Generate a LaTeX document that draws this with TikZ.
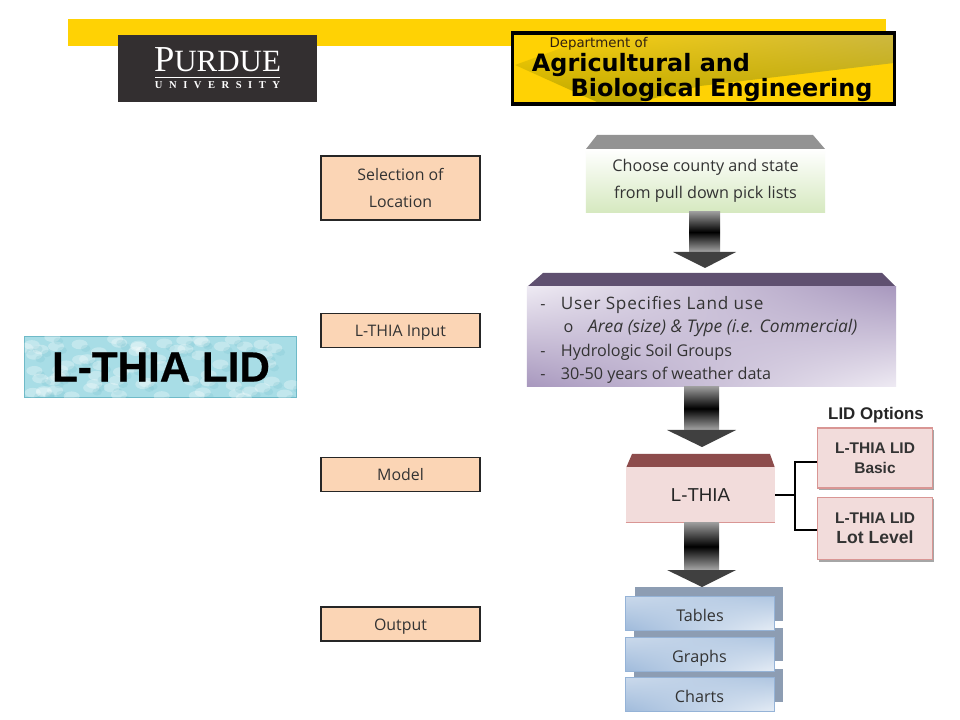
\documentclass[tikz,border=0pt]{standalone}
\usepackage{fontspec}
\usepackage{tikz}
\setmainfont{Open Sans}
\newfontfamily\arialfont{Liberation Sans}
\newfontfamily\lidfont[BoldFeatures={FakeBold=0.5}]{Liberation Sans}
\newfontfamily\purduefont{Liberation Serif}
\newfontfamily\abefont{DejaVu Sans}
\usetikzlibrary{positioning, shadings, shadows}
\definecolor{purdueblack}{HTML}{332F30}
\definecolor{purduegold}{HTML}{FFD204}
\definecolor{abeolive}{HTML}{BFA800}
\definecolor{abelight}{HTML}{CDB840}
\definecolor{stepfill}{HTML}{FBD5B5}
\definecolor{outgray}{HTML}{8D9DB3}
\definecolor{outedge}{HTML}{95B3D7}
\definecolor{lidred}{HTML}{F2DCDB}
\definecolor{lidedge}{HTML}{D99694}
\definecolor{lidwater}{HTML}{A8DDE6}
\definecolor{lidteal}{HTML}{6FBAC8}
\definecolor{purpledark}{HTML}{5F5070}
\definecolor{purplemid}{HTML}{A898BE}
\definecolor{purplelight}{HTML}{EEEAF3}
\tikzstyle{stage} = [draw=black!85,line width=1.4pt,fill=stepfill,minimum width=3.98cm,align=center,font=\fontsize{11.3}{19}\selectfont,text=black!80]
\tikzstyle{stageone} = [stage,minimum height=0.85cm,text height=12pt,text depth=3pt]
\tikzstyle{outback} = [fill=outgray,minimum width=3.7cm,minimum height=0.83cm,inner sep=0pt]
\tikzstyle{outfront} = [draw=outedge,upper left=outedge!50!white,upper right=outedge!75!white,lower left=outedge!90!white,lower right=outedge!25!white,minimum width=3.72cm,minimum height=0.84cm,inner sep=0pt,text height=13pt,text depth=1pt,font=\fontsize{11.5}{14}\selectfont,text=black!80]
\tikzstyle{option} = [draw=lidedge,line width=0.8pt,fill=lidred,minimum width=2.88cm,align=center,font=\arialfont\bfseries\fontsize{11}{14}\selectfont,text=black!80,drop shadow={shadow xshift=1.2pt,shadow yshift=-1.6pt,fill=gray!70,opacity=1}]
\tikzstyle{downarrow} = [top color=gray!80,bottom color=gray!70,middle color=black]
\tikzstyle{downhead} = [fill=black!75]
\begin{document}
\begin{tikzpicture}[x=0.025cm,y=-0.025cm]
        \useasboundingbox (0, 0) rectangle (960, 720);
        \fill[white] (0, 0) rectangle (960, 720);
        \fill[purduegold] (68, 19) rectangle (886, 46);
        \node[fill=purdueblack,minimum width=4.98cm,minimum height=1.68cm,inner sep=0pt] (purdue) at (217.5, 68.5) {};
        \node[text=white,inner sep=0pt] (purdueword) at (217.5, 60) {\purduefont\fontsize{26}{26}\selectfont P\fontsize{22}{26}\selectfont URDUE};
        \node[text=white,inner sep=0pt] (purduesub) at (217.5, 85) {\purduefont\bfseries\fontsize{7.5}{8}\selectfont U\hspace{0.62em}N\hspace{0.62em}I\hspace{0.62em}V\hspace{0.62em}E\hspace{0.62em}R\hspace{0.62em}S\hspace{0.62em}I\hspace{0.62em}T\hspace{0.62em}Y};
        \draw[white,line width=0.5pt] (155, 77) -- (280, 77);
        \node[fill=purduegold,minimum width=9.55cm,minimum height=1.76cm,inner sep=0pt] (abe) at (703.5, 68.5) {};
        \shade[upper left=purduegold,upper right=abelight,lower left=abeolive,lower right=abeolive] (515, 65) -- (600, 34) -- (894, 34) -- (894, 63) -- (700, 86) -- (640, 102) -- (597, 102) -- cycle;
        \draw[black,line width=2.2pt] (abe.south west) rectangle (abe.north east);
        \node[text=black!75!brown,inner sep=0pt] (abedept) at (598.5, 44) {\abefont\fontsize{9.5}{12}\selectfont Department of};
        \node[inner sep=0pt] (abeagri) at (641, 65) {\abefont\bfseries\fontsize{17}{19}\selectfont Agricultural and};
        \node[inner sep=0pt] (abebio) at (721.5, 90) {\abefont\bfseries\fontsize{17}{19}\selectfont Biological Engineering};
        \node[draw=lidteal,fill=lidwater,minimum width=6.8cm,minimum height=1.53cm,inner sep=0pt] (lid) at (160.5, 367) {};
        \begin{scope}
        \clip (24.5, 336.5) rectangle (296.5, 397.5);
        \pgfmathsetseed{7}
        \foreach \drop in {1,...,70} {
                \pgfmathsetmacro{\dropx}{24+272*rnd}
                \pgfmathsetmacro{\dropy}{336+62*rnd}
                \fill[white,opacity=0.3] (\dropx, \dropy) ellipse (0.2cm and 0.12cm);
                \fill[lidteal,opacity=0.2] (\dropx+6, \dropy+4) ellipse (0.12cm and 0.09cm);
        }
        \end{scope}
        \node[font=\lidfont\bfseries\fontsize{30}{32}\selectfont,text=black,inner sep=0pt] (lidname) at (161, 367) {L-THIA LID};
        \node[stage,minimum height=1.6cm] (location) at (400.5, 188) {Selection of\\Location};
        \node[stageone] (input) at (400.5, 330.5) {L-THIA Input};
        \node[stageone] (model) at (400.5, 474.5) {Model};
        \node[stageone] (output) at (400.5, 624) {Output};
        \fill[gray!85] (597, 135) -- (813, 135) -- (825, 149) -- (586, 149) -- cycle;
        \node[top color=white,bottom color=green!30!olive!25!white,minimum width=5.98cm,minimum height=1.58cm,inner sep=0pt,align=center,font=\fontsize{11.5}{19}\selectfont,text=black!80] (county) at (705.5, 181) {Choose county and state\\from pull down pick lists};
        \shade[downarrow] (689, 212) rectangle (720, 252);
        \fill[downhead] (673, 252) -- (736, 252) -- (705, 268) -- cycle;
        \fill[purpledark] (543, 273) -- (882, 273) -- (896, 287) -- (527, 287) -- cycle;
        \node[upper left=purplelight,upper right=purplemid,lower left=purplemid,lower right=purplelight,minimum width=9.23cm,minimum height=2.48cm,inner sep=0pt] (landuse) at (711.5, 336.5) {};
        \node[anchor=north west,inner sep=0pt,align=left,font=\fontsize{11.5}{16.4}\selectfont,text=black!80] (landtext) at (540, 296.5) {-\hspace{0.95em}{\addfontfeature{LetterSpace=4.6}\fontsize{12.2}{16.4}\selectfont User Specifies Land use}\\\hspace{1.45em}o\hspace{0.9em}{\fontsize{12.4}{16.4}\selectfont\textit{Area (size) \& Type (i.e. Commercial)}}\\-\hspace{0.95em}Hydrologic Soil Groups\\-\hspace{0.95em}30-50 years of weather data};
        \shade[downarrow] (684, 387) rectangle (719, 430);
        \fill[downhead] (667, 430) -- (736, 430) -- (702, 447) -- cycle;
        \fill[red!30!gray!85!black] (632, 454) -- (770, 454) -- (775, 468) -- (626, 468) -- cycle;
        \node[fill=lidred,minimum width=3.73cm,minimum height=1.38cm,inner sep=0pt,font=\arialfont\fontsize{13.3}{15}\selectfont,text=black!85] (lthia) at (700.5, 495) {L-THIA};
        \draw[lidedge,line width=0.8pt] (lthia.south west) -- (lthia.south east);
        \shade[downarrow] (684, 523) rectangle (719, 570);
        \fill[downhead] (667, 570) -- (736, 570) -- (702, 587) -- cycle;
        \node[font=\arialfont\bfseries\fontsize{12}{14}\selectfont,text=black!85,inner sep=0pt] (lidoptions) at (876, 415) {LID Options};
        \node[option,minimum height=1.5cm] (basic) at (875, 458) {L-THIA LID\\Basic};
        \node[option,minimum height=1.57cm] (lotlevel) at (875, 528.5) {L-THIA LID\\\fontsize{12.5}{15}\selectfont Lot Level};
        \coordinate (fork) at (795, 495);
        \draw[line width=1.4pt] (lthia.east) -- (fork);
        \draw[line width=1.4pt] (fork) |- ([yshift=-0.1cm]basic.west);
        \draw[line width=1.4pt] (fork) |- ([yshift=-0.04cm]lotlevel.west);
        \node[outback] (tablesback) at (709, 604) {};
        \node[outback] (graphsback) at (708.5, 644.5) {};
        \node[outback] (chartsback) at (708.5, 685.5) {};
        \node[outfront] (tables) at (700, 613) {Tables};
        \node[outfront] (graphs) at (699.5, 654) {Graphs};
        \node[outfront] (charts) at (699.5, 694.5) {Charts};
\end{tikzpicture}
\end{document}
